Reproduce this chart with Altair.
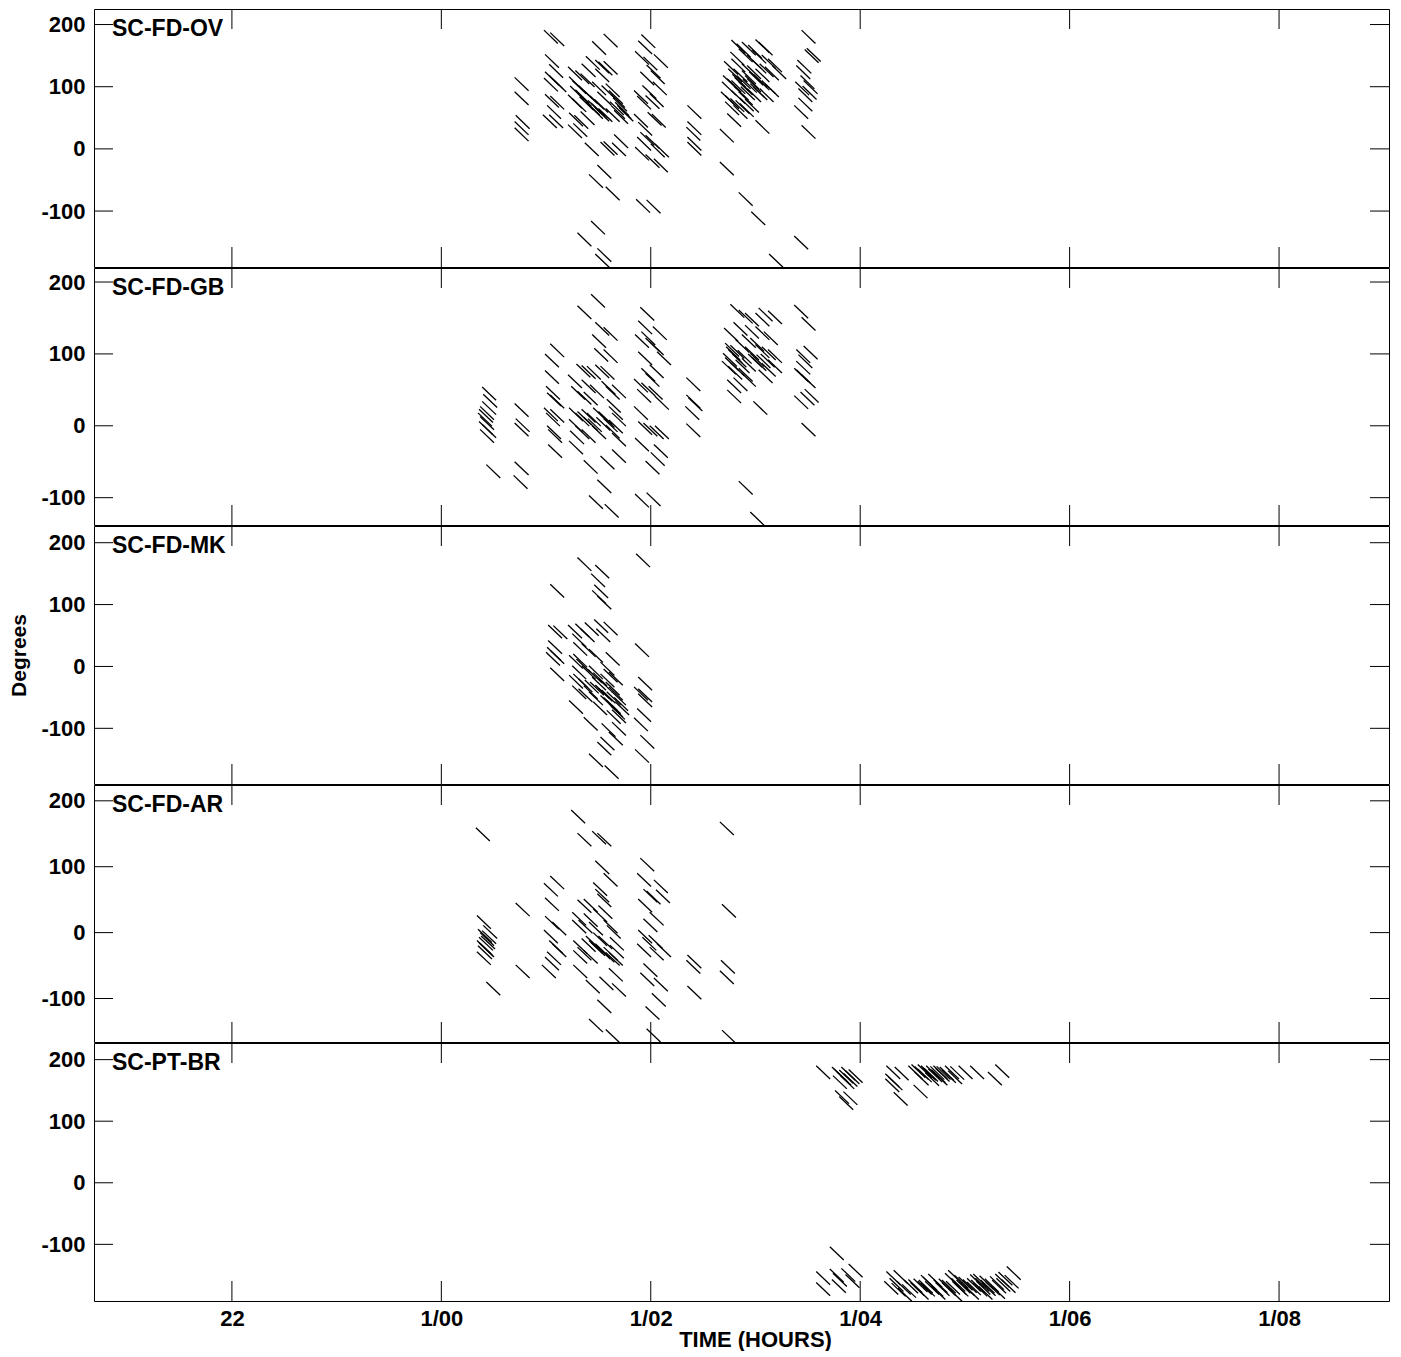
import altair as alt
import pandas as pd

FONT = "Liberation Sans"

BASELINES = ["SC-FD-OV", "SC-FD-GB", "SC-FD-MK", "SC-FD-AR", "SC-PT-BR"]

X_DOMAIN = [20.683, 33.05]
Y_DOMAINS = [[-190, 225], [-138, 219.5], [-190, 227], [-166, 224], [-192, 227]]
X_TICKS = [22, 24, 26, 28, 30, 32]
X_TICK_LABELS = ["22", "1/00", "1/02", "1/04", "1/06", "1/08"]
Y_TICKS = [-100, 0, 100, 200]

# each solution: (start time in hours, start phase in degrees); drawn as a short rate segment
SEG_HOURS = 0.133
SEG_DROP = [21.5, 18.5, 21.5, 20, 21.5]

OV = [
    (24.70, 115), (24.70, 92), (24.71, 54), (24.70, 44), (24.70, 34),
    (24.98, 191), (25.04, 187), (24.99, 152), (25.03, 136), (24.99, 124), (24.98, 114), (25.03, 118),
    (25.06, 113), (24.99, 88), (25.04, 85), (25.01, 70), (24.97, 55), (25.03, 55),
    (25.21, 132), (25.28, 126), (25.33, 121), (25.38, 149), (25.34, 137), (25.22, 116), (25.25, 110),
    (25.23, 101), (25.21, 87), (25.25, 81), (25.31, 102), (25.36, 94), (25.38, 76), (25.41, 70),
    (25.22, 58), (25.27, 54), (25.21, 39), (25.26, 41), (25.33, 60),
    (25.44, 173), (25.55, 185), (25.47, 143), (25.50, 140), (25.55, 141), (25.47, 129), (25.44, 108),
    (25.49, 92), (25.53, 102), (25.57, 105), (25.60, 94), (25.50, 65), (25.57, 65), (25.61, 76), (25.65, 62),
    (25.40, 78), (25.43, 74), (25.45, 70), (25.47, 66), (25.42, 85), (25.46, 80), (25.62, 88),
    (25.64, 82), (25.66, 75), (25.68, 70), (25.70, 66), (25.62, 70), (25.30, 90), (25.32, 84), (25.28, 95),
    (25.37, 10), (25.52, 11), (25.55, 12), (25.63, 10), (25.65, 23), (25.49, -26), (25.41, -41),
    (25.57, -61), (25.43, -116), (25.30, -135), (25.49, -160), (25.47, -169),
    (25.91, 184), (25.88, 174), (25.85, 157), (25.93, 148), (26.03, 152), (25.96, 135), (26.00, 126),
    (25.90, 124), (25.92, 102), (25.84, 94), (25.87, 85), (25.95, 86), (25.99, 89), (26.02, 108),
    (25.84, 56), (25.88, 43), (25.97, 59), (26.01, 56), (25.90, 27), (25.87, 19), (25.95, 22),
    (25.85, 3), (26.00, 8), (26.04, 8), (25.95, -9), (26.03, -16), (25.86, -81), (25.96, -82),
    (26.35, 70), (26.35, 44), (26.34, 35), (26.35, 19), (26.35, 11),
    (26.77, 175), (26.82, 169), (26.87, 172), (27.00, 176), (27.03, 172), (26.76, 156), (26.84, 161),
    (26.93, 167), (26.92, 151), (26.97, 159), (26.70, 141), (26.77, 145), (26.87, 137), (26.97, 143),
    (27.06, 151), (27.12, 145), (27.16, 134), (26.74, 129), (26.69, 118), (26.79, 129), (26.87, 126),
    (26.92, 134), (27.00, 129), (27.04, 137), (27.09, 132), (26.68, 108), (26.73, 113), (26.77, 110),
    (26.84, 108), (26.92, 113), (27.00, 116), (27.06, 110), (27.09, 105), (26.67, 92), (26.71, 86),
    (26.77, 94), (26.84, 92), (26.92, 97), (26.98, 100), (27.04, 97), (26.71, 76), (26.76, 81),
    (26.81, 78), (26.85, 82), (26.90, 80), (26.73, 57), (26.79, 70), (26.85, 73), (27.00, 46),
    (26.78, 120), (26.80, 115), (26.82, 118), (26.88, 112), (26.90, 118), (26.95, 105), (26.80, 100),
    (26.86, 100), (26.94, 124), (26.98, 120),
    (26.66, 32), (26.66, -21), (26.84, -70), (26.96, -101), (27.13, -169),
    (27.44, 191), (27.47, 160), (27.49, 162), (27.40, 143), (27.39, 134), (27.38, 108), (27.43, 118),
    (27.46, 110), (27.41, 97), (27.45, 101), (27.41, 82), (27.37, 70), (27.44, 38), (27.37, -140),
]

GB = [
    (24.39, 54), (24.40, 44), (24.39, 34), (24.37, 27), (24.36, 23), (24.35, 18), (24.37, 13),
    (24.36, 6), (24.39, 2), (24.37, -5),
    (24.70, 31), (24.71, 10), (24.70, 4), (24.43, -54), (24.70, -50), (24.69, -69),
    (25.04, 114), (24.99, 100), (24.99, 77), (25.00, 55), (25.01, 46), (25.04, 43), (24.98, 25),
    (25.00, 18), (25.04, 23), (25.01, 0), (25.02, -5), (25.02, -26),
    (25.43, 183), (25.30, 167), (25.47, 144), (25.55, 137), (25.44, 127), (25.46, 108), (25.55, 106),
    (25.29, 86), (25.34, 84), (25.39, 83), (25.47, 85), (25.52, 83), (25.21, 71), (25.34, 64),
    (25.42, 57), (25.53, 62), (25.57, 55), (25.63, 57), (25.24, 55), (25.30, 48), (25.36, 47),
    (25.22, 25), (25.28, 18), (25.34, 23), (25.39, 18), (25.45, 25), (25.52, 16), (25.58, 37),
    (25.60, 27), (25.63, 18), (25.22, 9), (25.28, 0), (25.23, -7), (25.34, -5), (25.44, 0),
    (25.57, 1), (25.22, -21), (25.36, -48), (25.52, -42), (25.63, -33), (25.63, -10), (25.49, -75),
    (25.41, -97), (25.56, -109),
    (25.30, 20), (25.36, 12), (25.40, 10), (25.48, 12), (25.50, 20), (25.55, 10), (25.60, 8),
    (25.90, 165), (25.88, 146), (26.02, 138), (25.85, 127), (25.91, 131), (25.95, 122), (25.99, 117),
    (26.06, 103), (25.88, 103), (25.91, 80), (25.99, 85), (25.95, 73), (25.84, 65), (25.87, 51),
    (25.91, 60), (25.98, 55), (26.04, 41), (25.84, 27), (25.88, 6), (25.93, 4), (25.99, 0),
    (26.04, 0), (25.85, -17), (26.03, -26), (25.95, -49), (26.00, -37), (25.85, -95), (25.96, -93),
    (26.34, 67), (26.34, 43), (26.36, 39), (26.33, 27), (26.34, 3),
    (26.76, 169), (26.84, 161), (26.90, 157), (27.03, 164), (27.12, 160), (27.00, 157), (26.79, 144),
    (26.70, 136), (26.90, 140), (27.00, 138), (27.08, 131), (26.71, 115), (26.74, 106), (26.69, 101),
    (26.81, 120), (26.87, 127), (26.95, 122), (27.00, 113), (27.06, 110), (27.12, 106), (26.68, 90),
    (26.74, 83), (26.81, 92), (26.87, 94), (26.95, 101), (27.01, 99), (27.06, 87), (27.12, 92),
    (26.73, 64), (26.79, 67), (26.84, 80), (26.87, 73), (27.03, 78), (26.73, 50), (26.98, 34),
    (26.72, 110), (26.76, 112), (26.78, 100), (26.83, 105), (26.90, 110), (26.93, 100), (26.97, 95),
    (26.71, 95), (26.76, 88), (27.05, 100),
    (26.84, -77), (26.95, -120),
    (27.37, 168), (27.44, 151), (27.39, 106), (27.46, 111), (27.41, 99), (27.39, 90), (27.37, 80),
    (27.39, 78), (27.44, 71), (27.43, 47), (27.47, 51), (27.37, 42), (27.44, 4),
]

MK = [
    (25.30, 176), (25.47, 164), (25.43, 150), (25.04, 133), (25.46, 132), (25.44, 123), (25.49, 114),
    (25.86, 182),
    (25.02, 67), (25.07, 66), (25.21, 67), (25.28, 69), (25.37, 71), (25.46, 76), (25.55, 72),
    (25.48, 61), (25.33, 61), (25.25, 53),
    (25.02, 42), (25.01, 31), (25.04, 26), (25.00, 23), (25.26, 39), (25.34, 37), (25.41, 28),
    (25.57, 23), (25.85, 37),
    (25.04, -2), (25.22, 18), (25.26, 20), (25.29, 12), (25.25, 1), (25.34, 1), (25.41, 1),
    (25.52, 7), (25.55, -4), (25.60, -9),
    (25.22, -14), (25.26, -12), (25.31, -20), (25.37, -22), (25.44, -17), (25.52, -12), (25.57, -25),
    (25.60, -33),
    (25.25, -31), (25.31, -36), (25.36, -31), (25.41, -41), (25.52, -47), (25.58, -41), (25.63, -41),
    (25.66, -57),
    (25.40, -5), (25.45, -10), (25.47, -30), (25.50, -35), (25.53, -38), (25.55, -50), (25.58, -55),
    (25.60, -60), (25.62, -64), (25.65, -50), (25.63, -70), (25.50, -20), (25.42, -25),
    (25.88, -17), (25.84, -33), (25.88, -36), (25.88, -44),
    (25.22, -55), (25.45, -57), (25.58, -71), (25.84, -83), (25.87, -68), (25.36, -82), (25.53, -92),
    (25.63, -90), (25.60, -106), (25.52, -114), (25.49, -122), (25.90, -111), (25.85, -134),
    (25.41, -141), (25.56, -160),
]

AR = [
    (24.33, 159), (25.24, 186), (25.30, 151), (25.44, 154), (25.49, 151), (26.66, 168), (25.90, 113),
    (25.47, 109), (25.55, 90), (25.87, 90), (26.03, 80), (24.98, 75), (25.04, 86), (24.99, 53),
    (24.71, 45), (25.45, 76), (25.47, 66), (25.49, 59), (25.93, 66), (25.96, 63), (25.88, 51),
    (26.05, 65), (25.30, 50), (25.36, 51), (25.45, 36), (25.50, 41), (26.68, 43),
    (24.34, 26), (24.40, 11), (24.39, 3), (24.36, -7), (24.34, -12), (24.37, -17), (24.34, -29),
    (24.35, 5), (24.37, 0), (24.38, -5), (24.36, -15), (24.35, -20),
    (24.99, 25), (25.06, 16), (24.98, 4), (25.03, -12), (25.06, -17), (25.01, -29), (24.99, -37),
    (24.96, -49),
    (25.25, 31), (25.25, 19), (25.31, 19), (25.36, 29), (25.41, 16), (25.55, 19), (25.58, 11),
    (25.61, -7), (25.26, -12), (25.30, -22), (25.34, -9), (25.41, -12), (25.47, -17), (25.55, -22),
    (25.61, -19), (25.26, -27), (25.36, -27),
    (25.38, -5), (25.43, -15), (25.48, -20), (25.52, -25), (25.57, -30), (25.60, -30), (25.45, 0),
    (25.50, -5),
    (25.93, 21), (25.99, 31), (25.88, 4), (25.92, -7), (25.98, -4), (25.87, -17), (25.99, -22),
    (26.06, -17),
    (24.71, -49), (24.43, -75), (25.26, -49), (25.38, -72), (25.51, -67), (25.60, -54), (25.63, -77),
    (25.49, -102), (25.93, -47), (25.90, -61), (26.03, -69), (26.01, -92), (25.95, -112),
    (26.35, -34), (26.34, -42), (26.35, -81), (26.67, -42), (26.66, -58), (25.41, -131),
    (25.57, -147), (25.96, -146), (26.68, -148),
]

BR = [
    (27.58, 190), (27.73, 188), (27.75, 185), (27.78, 180), (27.82, 188), (27.86, 182), (27.89, 184),
    (27.74, 174), (27.81, 174), (27.76, 150), (27.80, 140), (27.84, 148), (27.84, 178), (27.80, 183),
    (28.25, 190), (28.33, 188), (28.24, 177), (28.27, 172), (28.24, 169), (28.32, 147), (28.51, 159),
    (28.46, 190), (28.49, 192), (28.52, 189), (28.55, 185), (28.59, 188), (28.63, 190), (28.67, 189),
    (28.70, 190), (28.73, 189), (28.76, 188), (28.81, 190), (28.86, 189), (28.94, 190), (29.05, 190),
    (29.29, 192), (29.22, 180), (28.52, 180), (28.62, 179), (28.70, 180),
    (28.55, 192), (28.58, 190), (28.61, 186), (28.65, 185), (28.68, 184), (28.72, 186), (28.78, 184),
    (28.84, 182),
    (27.71, -104), (27.58, -144), (27.58, -162), (27.71, -140), (27.74, -147), (27.73, -157),
    (27.82, -139), (27.89, -132), (27.86, -149),
    (28.25, -144), (28.32, -142), (28.23, -160), (28.30, -163), (28.46, -157), (28.51, -156),
    (28.55, -160), (28.60, -153), (28.65, -148), (28.70, -157), (28.75, -156), (28.81, -147),
    (28.84, -142), (28.87, -155), (28.94, -153), (28.98, -157), (29.05, -149), (29.10, -155),
    (29.14, -151), (29.19, -156), (29.24, -152), (29.29, -148), (29.32, -145), (29.40, -136),
    (29.35, -157),
    (28.68, -168), (28.52, -168), (28.36, -171), (28.84, -171), (29.00, -168), (29.13, -168),
    (29.25, -167), (28.58, -163), (28.78, -162), (28.90, -163), (29.02, -161), (29.08, -163),
    (29.16, -162), (28.40, -165),
    (28.28, -155), (28.35, -160), (28.42, -158), (28.48, -162), (28.56, -158), (28.62, -160),
    (28.66, -163), (28.72, -162), (28.78, -158), (28.82, -160), (28.88, -160), (28.92, -158),
    (28.96, -162), (29.02, -155), (29.06, -158), (29.11, -160), (29.15, -158), (29.20, -161),
    (29.26, -158), (29.30, -155), (28.58, -150), (28.90, -150), (29.08, -148), (29.38, -150),
]

SERIES = [OV, GB, MK, AR, BR]

W = 1295
HEIGHTS = [258, 257, 258, 257, 258]
TICK = 19

label_expr = "''"
for v, lab in reversed(list(zip(X_TICKS, X_TICK_LABELS))):
    label_expr = f"datum.value == {v} ? '{lab}' : ({label_expr})"


def panel(i):
    H = HEIGHTS[i]
    last = i == len(SERIES) - 1
    df = pd.DataFrame(SERIES[i], columns=["t", "p"])
    df["t2"] = df["t"] + SEG_HOURS
    df["p2"] = df["p"] - SEG_DROP[i]

    xscale = alt.Scale(domain=X_DOMAIN, nice=False, zero=False)
    yscale = alt.Scale(domain=Y_DOMAINS[i], nice=False, zero=False)
    if last:
        xaxis = alt.Axis(values=X_TICKS, labelExpr=label_expr, title="TIME (HOURS)",
                         ticks=False, tickSize=0, domain=False, grid=False, labelFlush=False,
                         labelPadding=7, labelFont=FONT, labelFontSize=22, labelFontWeight="bold",
                         labelColor="black", titleFont=FONT, titleFontSize=22,
                         titleFontWeight="bold", titleColor="black", titlePadding=0, titleX=661)
    else:
        xaxis = None
    yaxis = alt.Axis(values=Y_TICKS, labelExpr="'' + datum.value",
                     title="Degrees" if i == 2 else None, ticks=False, tickSize=0,
                     domain=False, grid=False, labelPadding=9, labelFont=FONT, labelFontSize=22,
                     labelFontWeight="bold", labelColor="black", titleFont=FONT, titleFontSize=21,
                     titleFontWeight="bold", titleColor="black", titlePadding=11)

    segs = alt.Chart(df).mark_rule(color="black", strokeWidth=1.3, clip=True).encode(
        x=alt.X("t:Q", scale=xscale, axis=xaxis),
        x2="t2:Q",
        y=alt.Y("p:Q", scale=yscale, axis=yaxis),
        y2="p2:Q",
    )
    yt = pd.DataFrame({"v": Y_TICKS})
    xt = pd.DataFrame({"v": X_TICKS})
    left = alt.Chart(yt).mark_rule(color="black", strokeWidth=1).encode(
        y=alt.Y("v:Q", scale=yscale, axis=yaxis), x=alt.value(0), x2=alt.value(TICK))
    right = alt.Chart(yt).mark_rule(color="black", strokeWidth=1).encode(
        y=alt.Y("v:Q", scale=yscale, axis=yaxis), x=alt.value(W - TICK), x2=alt.value(W))
    top = alt.Chart(xt).mark_rule(color="black", strokeWidth=1).encode(
        x=alt.X("v:Q", scale=xscale, axis=xaxis), y=alt.value(0), y2=alt.value(20))
    bottom = alt.Chart(xt).mark_rule(color="black", strokeWidth=1).encode(
        x=alt.X("v:Q", scale=xscale, axis=xaxis), y=alt.value(H - 20), y2=alt.value(H))
    name = alt.Chart(pd.DataFrame({"name": [BASELINES[i]]})).mark_text(
        align="left", baseline="alphabetic", font=FONT, fontSize=23, fontWeight="bold", color="black"
    ).encode(x=alt.value(18), y=alt.value(27), text="name:N")
    return alt.layer(segs, left, right, top, bottom, name).properties(width=W, height=H)


chart = alt.vconcat(
    *[panel(i) for i in range(len(SERIES))], spacing=1, bounds="flush"
).properties(
    padding={"left": 0, "top": 0, "right": 0, "bottom": 0}, background="white"
).configure_view(stroke="black", strokeWidth=1)

chart.save("out.html", embed_options={"renderer": "svg", "actions": False})
